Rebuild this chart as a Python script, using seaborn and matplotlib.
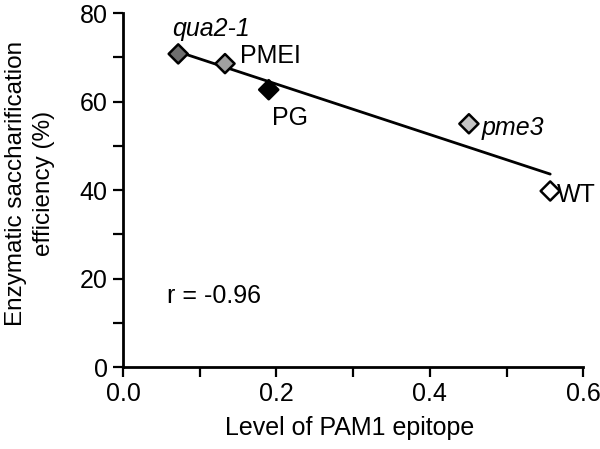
import matplotlib
matplotlib.use("Agg")
import matplotlib.pyplot as plt
import seaborn as sns
import pandas as pd
from matplotlib.ticker import MultipleLocator

names = ["qua2-1", "PMEI", "PG", "pme3", "WT"]
pam1 = [0.072, 0.133, 0.190, 0.451, 0.557]
sacch = [70.8, 68.6, 62.7, 55.0, 39.8]
colors = ["#6e6e6e", "#a0a0a0", "#000000", "#c4c4c4", "#ffffff"]
italic = [True, False, False, True, False]

df = pd.DataFrame({"name": names, "x": pam1, "y": sacch})

sns.set_style("ticks", {"axes.edgecolor": "black", "text.color": "black",
                        "axes.labelcolor": "black", "xtick.color": "black",
                        "ytick.color": "black"})
plt.rcParams["font.family"] = ["Liberation Sans", "DejaVu Sans"]

FS = 18
fig = plt.figure(figsize=(6.0, 4.49), dpi=100)
ax = fig.add_axes([0.205, 0.1826, 0.767, 0.788])

sns.regplot(data=df, x="x", y="y", ci=None, scatter=False, ax=ax,
            line_kws={"color": "black", "lw": 2.0}, truncate=True)
sns.scatterplot(data=df, x="x", y="y", hue="name", palette=dict(zip(names, colors)),
                marker="D", s=95, edgecolor="black", linewidth=1.8, ax=ax, legend=False, zorder=3)

label_pos = {
    "qua2-1": (0.064, 74.8),
    "PMEI": (0.153, 68.7),
    "PG": (0.194, 54.7),
    "pme3": (0.468, 52.4),
    "WT": (0.566, 37.3),
}
for n, it in zip(names, italic):
    tx, ty = label_pos[n]
    ax.text(tx, ty, n, fontsize=FS, color="black", style="italic" if it else "normal",
            ha="left", va="baseline")
ax.text(0.057, 14.5, "r = -0.96", fontsize=FS, color="black", ha="left", va="baseline")

ax.set_xlim(0, 0.6)
ax.set_ylim(0, 80)
ax.xaxis.set_major_locator(MultipleLocator(0.2))
ax.xaxis.set_minor_locator(MultipleLocator(0.1))
ax.yaxis.set_major_locator(MultipleLocator(20))
ax.yaxis.set_minor_locator(MultipleLocator(10))
ax.set_xticklabels([f"{v:.1f}" for v in ax.get_xticks()])
ax.tick_params(which="both", direction="out", length=7, width=1.6, labelsize=FS, pad=4,
               colors="black")
for s in ["left", "bottom"]:
    ax.spines[s].set_linewidth(2.0)
    ax.spines[s].set_color("black")
sns.despine(ax=ax)
ax.set_xlabel("Level of PAM1 epitope", fontsize=FS, color="black")
ax.set_ylabel("Enzymatic saccharification\nefficiency (%)", fontsize=17.5, linespacing=1.35,
              color="black")
ax.xaxis.set_label_coords(0.493, -0.138)
ax.yaxis.set_label_coords(-0.148, 0.52)

fig.savefig("out.png", dpi=100)
